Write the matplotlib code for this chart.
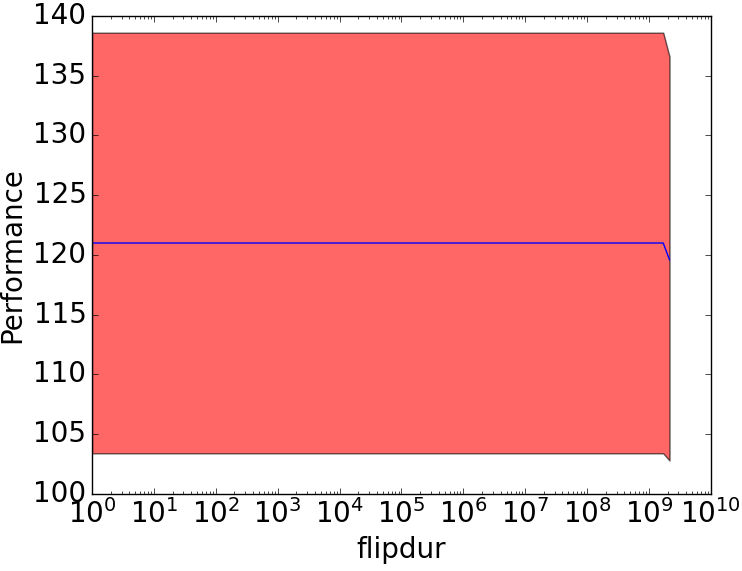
import matplotlib
matplotlib.use("Agg")
from matplotlib import pyplot as plt

flipdur = [1, 1.7e9, 2.147e9]
mean_perf = [121.0, 121.0, 119.6]
upper_perf = [138.6, 138.6, 136.6]
lower_perf = [103.4, 103.4, 102.8]

plt.style.use('classic')
plt.rcParams['font.size'] = 20

fig = plt.figure(figsize=(7.42, 5.71), dpi=100)
ax = fig.add_axes([0.124, 0.135, 0.834, 0.837])

ax.fill_between(flipdur, lower_perf, upper_perf, color='red', alpha=0.6, edgecolor='black')
ax.plot(flipdur, mean_perf, color='blue')

ax.set_xscale('log')
ax.set_xlim(1, 1e10)
ax.set_ylim(100, 140)
ax.set_xlabel('flipdur', fontsize=20)
ax.set_ylabel('Performance', fontsize=20)
ax.tick_params(labelsize=20)

fig.savefig('out.png', dpi=100)
